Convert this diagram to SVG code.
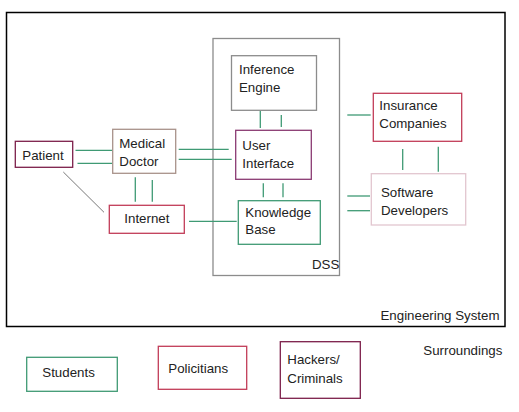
<svg xmlns="http://www.w3.org/2000/svg" width="519" height="412" viewBox="0 0 519 412">
<style>
text{font-family:"Liberation Sans",Arial,sans-serif;font-size:13.3px;fill:#222}
rect{fill:#fff;stroke-width:1.3}
.g{stroke:#3f9a74}.r{stroke:#c23c58}.m{stroke:#7c1f4a}.p{stroke:#8a3a72}.gr{stroke:#8c8c8c}.d{stroke:#a8928a}.s{stroke:#e2c6cf}
#connectors line{stroke:#3f9a74;stroke-width:1.3}
</style>
<rect width="519" height="412" fill="#fff" stroke="none"/>
<g id="engineering-system"><rect x="6.5" y="12.5" width="498.5" height="314" style="stroke:#000;stroke-width:1.5"/><text x="380.5" y="319.5">Engineering System</text></g>
<g id="dss"><rect x="213" y="38.5" width="126.5" height="237" class="gr"/><text x="312" y="269">DSS</text></g>
<g id="connectors">
<line x1="75.5" y1="150.3" x2="112" y2="150.3"/>
<line x1="77.5" y1="163.3" x2="112" y2="163.3"/>
<line x1="178.7" y1="149.3" x2="228.7" y2="149.3"/>
<line x1="178.7" y1="159.3" x2="231.7" y2="159.3"/>
<line x1="135.3" y1="177.3" x2="135.3" y2="201.7"/>
<line x1="152.3" y1="180" x2="152.3" y2="201.7"/>
<line x1="63.3" y1="172" x2="104" y2="212.3" style="stroke:#555;stroke-width:0.8"/>
<line x1="189" y1="221.3" x2="236.7" y2="221.3"/>
<line x1="260.3" y1="111" x2="260.3" y2="128"/>
<line x1="281.3" y1="115" x2="281.3" y2="127"/>
<line x1="263.3" y1="183.3" x2="263.3" y2="197.3"/>
<line x1="283" y1="183.3" x2="283" y2="197.3"/>
<line x1="347.3" y1="115" x2="370.7" y2="115"/>
<line x1="402.7" y1="149" x2="402.7" y2="170"/>
<line x1="438.3" y1="146.7" x2="438.3" y2="171.7"/>
<line x1="347.3" y1="196" x2="370" y2="196"/>
<line x1="347.3" y1="210.7" x2="370" y2="210.7"/>
</g>
<g id="inference-engine"><rect x="231.5" y="55.7" width="85" height="54.6" class="gr"/><text x="239" y="74">Inference</text><text x="239" y="92">Engine</text></g>
<g id="user-interface"><rect x="235.7" y="130.3" width="75.6" height="49" class="p"/><text x="242.3" y="150">User</text><text x="242.3" y="168">Interface</text></g>
<g id="knowledge-base"><rect x="238.3" y="200.7" width="82" height="43.6" class="g"/><text x="245.3" y="216.7">Knowledge</text><text x="245.3" y="234">Base</text></g>
<g id="insurance"><rect x="373.3" y="93.3" width="88.4" height="48" class="r"/><text x="379.3" y="110">Insurance</text><text x="379.3" y="127.7">Companies</text></g>
<g id="software"><rect x="371.3" y="173.7" width="94.4" height="51.3" class="s"/><text x="381" y="197.3">Software</text><text x="381" y="215.3">Developers</text></g>
<g id="patient"><rect x="15.3" y="141.3" width="57.4" height="26" class="m"/><text x="22.3" y="160">Patient</text></g>
<g id="doctor"><rect x="112.7" y="129.3" width="63" height="44" class="d"/><text x="119.3" y="147.7">Medical</text><text x="119.3" y="165.7">Doctor</text></g>
<g id="internet"><rect x="109.3" y="205.3" width="75" height="28" class="r"/><text x="124.3" y="223.3">Internet</text></g>
<g id="students"><rect x="26.7" y="357.3" width="90.6" height="34" class="g"/><text x="42.3" y="377.3">Students</text></g>
<g id="politicians"><rect x="158.3" y="346.3" width="88.4" height="43" class="r"/><text x="168.3" y="373.3">Policitians</text></g>
<g id="hackers"><rect x="280.3" y="341.7" width="80" height="56.6" class="m"/><text x="287.3" y="364.3">Hackers/</text><text x="287.3" y="382.7">Criminals</text></g>
<g id="surroundings"><text x="423.3" y="355">Surroundings</text></g>
</svg>
